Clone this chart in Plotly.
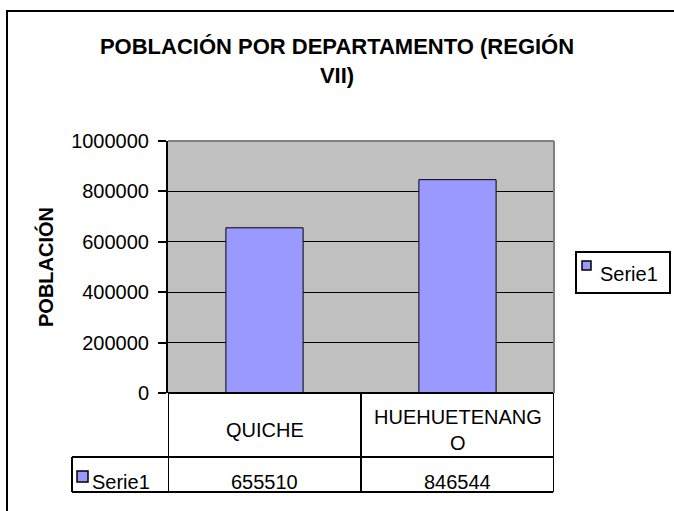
import plotly.graph_objects as go

# ---- data ----
categories = ["QUICHE", "HUEHUETENANGO"]
values = [655510, 846544]
series_name = "Serie1"
chart_title = "POBLACIÓN POR DEPARTAMENTO (REGIÓN<br>VII)"
y_title = "POBLACIÓN"
y_tickvals = [0, 200000, 400000, 600000, 800000, 1000000]

W, H = 674, 511
BAR_COLOR = "#9999FF"
FONT = "Liberation Sans, Arial, sans-serif"

# pixel layout helpers
def px(x):
    return x / W

def py(y):
    return 1 - y / H

PL, PR, PT, PB = 168, 554, 141, 393   # plot area
ROW1, ROW2 = 457, 492                 # table row bottoms
KEY_L = 72                            # legend-key cell left

fig = go.Figure()
fig.add_trace(go.Bar(
    x=categories, y=values, name=series_name, showlegend=False,
    marker=dict(color=BAR_COLOR, line=dict(color="black", width=1)),
))

shapes = []
# outer chart border
shapes.append(dict(type="rect", xref="paper", yref="paper",
                   x0=px(7), x1=px(W + 20), y0=py(H + 20), y1=py(11),
                   line=dict(color="black", width=2)))
# plot area gray border (top, right)
shapes.append(dict(type="line", xref="paper", yref="paper",
                   x0=px(PL), x1=px(PR), y0=py(PT), y1=py(PT),
                   line=dict(color="#808080", width=2)))
shapes.append(dict(type="line", xref="paper", yref="paper",
                   x0=px(PR), x1=px(PR), y0=py(PT), y1=py(PB),
                   line=dict(color="#808080", width=2)))
# data table lines
n = len(categories)
for yy, xl in [(PB, PL), (ROW1, KEY_L), (ROW2, KEY_L)]:
    shapes.append(dict(type="line", xref="paper", yref="paper",
                       x0=px(xl), x1=px(PR - 1), y0=py(yy), y1=py(yy),
                       line=dict(color="black", width=2)))
for i in range(n + 1):
    shapes.append(dict(type="line", xref="x", yref="paper",
                       x0=i - 0.5, x1=i - 0.5, y0=py(PB), y1=py(ROW2),
                       line=dict(color="black", width=2)))
shapes.append(dict(type="line", xref="paper", yref="paper",
                   x0=px(KEY_L), x1=px(KEY_L), y0=py(ROW1), y1=py(ROW2),
                   line=dict(color="black", width=2)))
# legend key in table
shapes.append(dict(type="rect", xref="paper", yref="paper",
                   x0=px(77), x1=px(88), y0=py(482), y1=py(471),
                   fillcolor=BAR_COLOR, line=dict(color="black", width=1.5)))
# legend box
shapes.append(dict(type="rect", xref="paper", yref="paper",
                   x0=px(576), x1=px(670), y0=py(293), y1=py(252),
                   fillcolor="white", line=dict(color="black", width=2)))
shapes.append(dict(type="rect", xref="paper", yref="paper",
                   x0=px(582), x1=px(591), y0=py(270), y1=py(261),
                   fillcolor=BAR_COLOR, line=dict(color="black", width=1.5)))

annotations = []
for i, c in enumerate(categories):
    label = c if len(c) <= 12 else c[:12] + "<br>" + c[12:]
    annotations.append(dict(xref="x", yref="paper", x=i, y=py(430),
                            text=label, showarrow=False, xanchor="center",
                            yanchor="middle", font=dict(size=20)))
    annotations.append(dict(xref="x", yref="paper", x=i, y=py(482),
                            text=str(values[i]), showarrow=False, xanchor="center",
                            yanchor="middle", font=dict(size=20)))
annotations.append(dict(xref="paper", yref="paper", x=px(90), y=py(482),
                        text=series_name, showarrow=False, xanchor="left",
                        yanchor="middle", font=dict(size=20)))
annotations.append(dict(xref="paper", yref="paper", x=px(598), y=py(274),
                        text=series_name, showarrow=False, xanchor="left",
                        yanchor="middle", font=dict(size=20)))

fig.update_layout(
    width=W, height=H,
    margin=dict(l=0, r=0, t=0, b=0, autoexpand=False),
    paper_bgcolor="white",
    plot_bgcolor="#C0C0C0",
    font=dict(family=FONT, size=20, color="black"),
    title=dict(text="<b>" + chart_title + "</b>", x=0.5, xanchor="center",
               y=py(54), yanchor="middle", font=dict(size=22)),
    bargap=0.6,
    showlegend=False,
    xaxis=dict(domain=[px(PL), px(PR)], range=[-0.5, n - 0.5],
               showticklabels=False, ticks="", showgrid=False,
               zeroline=False, showline=False, fixedrange=True,
               automargin=False),
    yaxis=dict(domain=[py(PB), py(PT)], range=[0, 1000000],
               tickvals=y_tickvals, tickformat="d",
               showgrid=True, gridcolor="black", gridwidth=1,
               ticks="outside", ticklen=8, tickcolor="black", tickwidth=2,
               showline=True, linecolor="black", linewidth=2,
               zeroline=False, ticklabelstandoff=5, automargin=False,
               title=dict(text="<b>" + y_title + "</b>", standoff=12,
                          font=dict(size=20))),
    shapes=shapes,
    annotations=annotations,
)

fig.write_html("out.html",
               config={"displayModeBar": False},
               post_script="document.body.style.margin='0px';document.body.style.overflow='hidden';")
